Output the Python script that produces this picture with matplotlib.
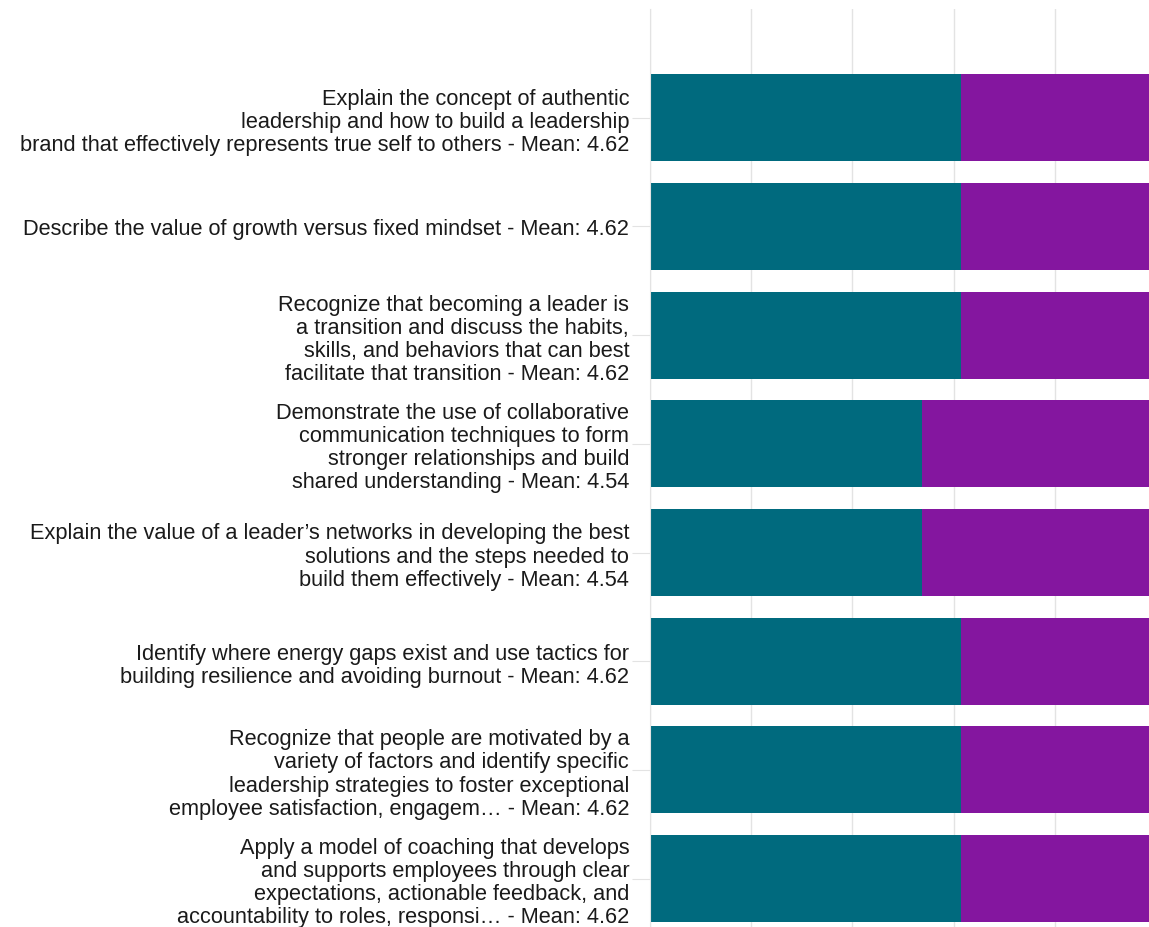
import matplotlib
matplotlib.use("Agg")
import matplotlib.pyplot as plt

# learning objectives, top to bottom
labels = [
    "Explain the concept of authentic\nleadership and how to build a leadership\nbrand that effectively represents true self to others",
    "Describe the value of growth versus fixed mindset",
    "Recognize that becoming a leader is\na transition and discuss the habits,\nskills, and behaviors that can best\nfacilitate that transition",
    "Demonstrate the use of collaborative\ncommunication techniques to form\nstronger relationships and build\nshared understanding",
    "Explain the value of a leader\u2019s networks in developing the best\nsolutions and the steps needed to\nbuild them effectively",
    "Identify where energy gaps exist and use tactics for\nbuilding resilience and avoiding burnout",
    "Recognize that people are motivated by a\nvariety of factors and identify specific\nleadership strategies to foster exceptional\nemployee satisfaction, engagem\u2026",
    "Apply a model of coaching that develops\nand supports employees through clear\nexpectations, actionable feedback, and\naccountability to roles, responsi\u2026",
]
means = [4.62, 4.62, 4.62, 4.54, 4.54, 4.62, 4.62, 4.62]
strongly_agree = [8, 8, 8, 7, 7, 8, 8, 8]
agree = [5, 5, 5, 6, 6, 5, 5, 5]

teal = "#006a7e"
purple = "#84169f"

n = [s + a for s, a in zip(strongly_agree, agree)]
sa_pct = [100 * s / t for s, t in zip(strongly_agree, n)]
ag_pct = [100 * a / t for a, t in zip(agree, n)]
ticklabels = [f"{l} - Mean: {m:.2f}" for l, m in zip(labels, means)]

plt.rcParams["font.family"] = ["Liberation Sans", "DejaVu Sans"]

fig = plt.figure(figsize=(11.49, 9.28), dpi=100)
ax = fig.add_axes([650 / 1149, -6 / 928, 506 / 1149, 924 / 928])

y = list(range(len(labels)))
ax.barh(y, sa_pct, height=0.8, color=teal)
ax.barh(y, ag_pct, left=sa_pct, height=0.8, color=purple)

ax.set_xlim(0, 100)
ax.set_ylim(7.5, -1.0)
ax.set_xticks([0, 20, 40, 60, 80, 100])
ax.xaxis.grid(True, color="#e3e3e3", linewidth=1)
ax.set_axisbelow(True)
ax.tick_params(axis="x", length=0, labelbottom=False)

ax.set_yticks(y)
ax.set_yticklabels(ticklabels, fontsize=15.7, color="#1a1a1a", linespacing=1.13)
ax.tick_params(axis="y", length=13, width=0.8, color="#e3e3e3", pad=2)

for side in ["top", "right", "bottom"]:
    ax.spines[side].set_visible(False)
ax.spines["left"].set_color("#e3e3e3")

fig.savefig("out.png", dpi=100)
